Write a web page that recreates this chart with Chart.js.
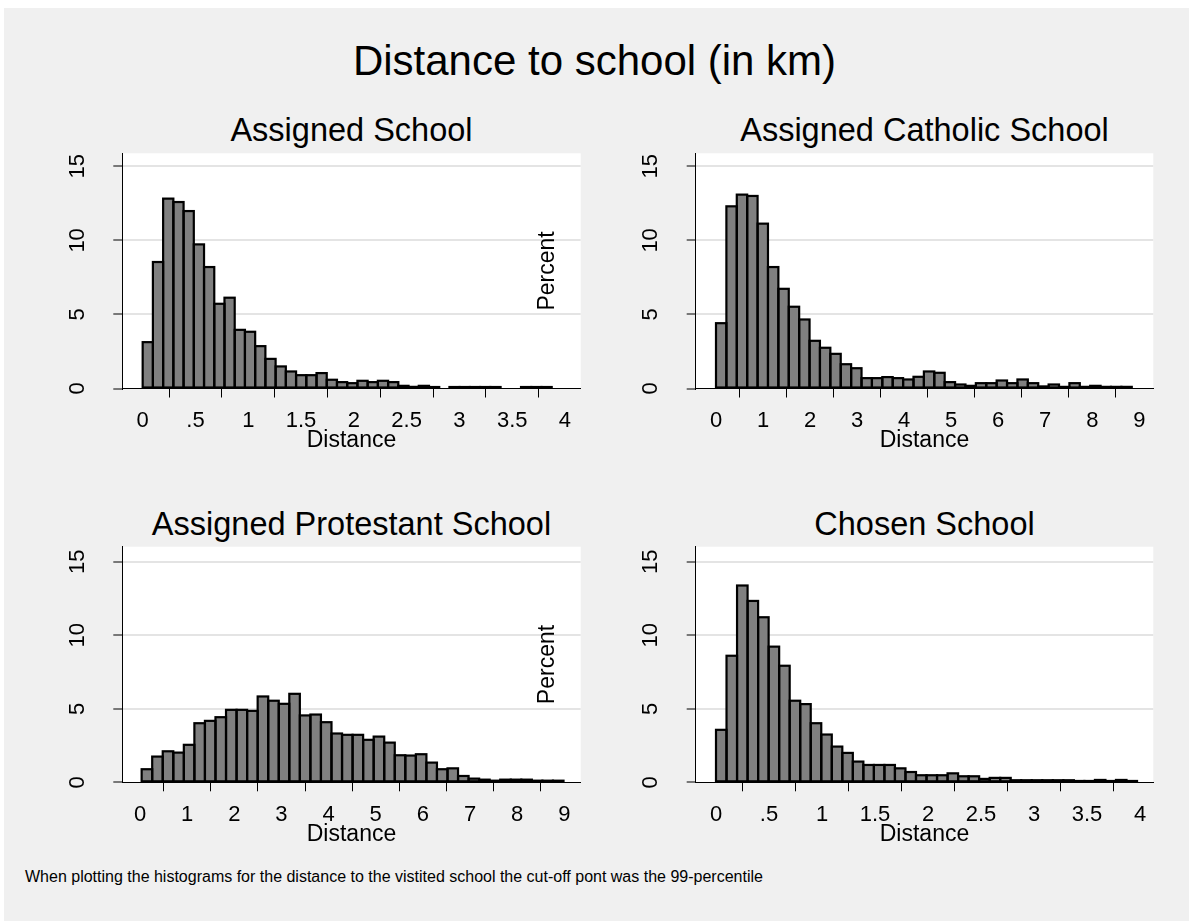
<!DOCTYPE html>
<html><head><meta charset="utf-8">
<script src="https://cdn.jsdelivr.net/npm/chart.js@4/dist/chart.umd.min.js"></script>
<style>
html,body{margin:0;padding:0;background:#fff;width:1189px;height:921px;overflow:hidden;font-family:"Liberation Sans",Arial,sans-serif;}
#bg{position:absolute;left:4px;top:8px;width:1185px;height:913px;background:#f0f0f0;}
.t{position:absolute;white-space:nowrap;color:#000;line-height:1;text-align:center;}
canvas{position:absolute;}
</style></head><body>
<div id="bg"></div>
<div class="t" style="left:0;width:1189px;top:39.5px;font-size:42px">Distance to school (in km)</div>
<div class="t" style="left:51.5px;width:600px;top:114.2px;font-size:32.5px">Assigned School</div>
<div class="t" style="left:624.5px;width:600px;top:114.2px;font-size:32.5px">Assigned Catholic School</div>
<div class="t" style="left:51.5px;width:600px;top:508px;font-size:32.5px">Assigned Protestant School</div>
<div class="t" style="left:624.5px;width:600px;top:508px;font-size:32.5px">Chosen School</div>
<div class="t" style="left:25px;top:869.2px;font-size:16px;text-align:left">When plotting the histograms for the distance to the vistited school the cut-off pont was the 99-percentile</div>
<script>
// ---- data ----
const assignedHeights = [3.13, 8.54, 12.82, 12.59, 11.98, 9.73, 8.20, 5.72, 6.13, 3.96, 3.83, 2.86, 2.00, 1.49, 1.15, 0.90, 0.90, 1.04, 0.59, 0.43, 0.36, 0.52, 0.43, 0.52, 0.43, 0.18, 0.11, 0.18, 0.10, 0, 0.10, 0.10, 0.10, 0.10, 0.10, 0, 0, 0.10, 0.10, 0.10];
const catholicHeights = [4.41, 12.30, 13.09, 13.0, 11.13, 8.20, 6.73, 5.52, 4.66, 3.22, 2.75, 2.34, 1.64, 1.37, 0.70, 0.70, 0.77, 0.70, 0.61, 0.79, 1.15, 1.06, 0.43, 0.27, 0.18, 0.36, 0.36, 0.54, 0.36, 0.61, 0.36, 0.14, 0.27, 0.11, 0.36, 0.11, 0.18, 0.11, 0.11, 0.11];
const protestantHeights = [0.89, 1.75, 2.11, 2.02, 2.55, 4.02, 4.18, 4.43, 4.93, 4.93, 4.86, 5.84, 5.55, 5.34, 6.02, 4.55, 4.61, 4.09, 3.32, 3.23, 3.23, 2.89, 3.11, 2.70, 1.84, 1.82, 1.91, 1.34, 0.89, 0.95, 0.43, 0.25, 0.18, 0.11, 0.18, 0.18, 0.18, 0.11, 0.11, 0.11];
const chosenHeights = [3.57, 8.61, 13.39, 12.34, 11.23, 9.23, 7.93, 5.55, 5.32, 4.02, 3.25, 2.43, 2.0, 1.41, 1.18, 1.18, 1.18, 0.95, 0.70, 0.48, 0.48, 0.48, 0.61, 0.41, 0.41, 0.23, 0.30, 0.30, 0.14, 0.14, 0.14, 0.14, 0.14, 0.14, 0.09, 0.09, 0.16, 0.09, 0.16, 0.09];

// bin start and bin width (km) for each histogram
const assignedBins = [0, 0.09686];
const catholicBins = [0, 0.2210];
const protestantBins = [0.035, 0.2237];
const chosenBins = [0, 0.0993];

const ticks4 = [0, 0.5, 1, 1.5, 2, 2.5, 3, 3.5, 4];
const ticks4Labels = ["0", ".5", "1", "1.5", "2", "2.5", "3", "3.5", "4"];
const ticks9 = [0, 1, 2, 3, 4, 5, 6, 7, 8, 9];
const ticks9Labels = ["0", "1", "2", "3", "4", "5", "6", "7", "8", "9"];
const yTicks = [0, 5, 10, 15];
const yTickLabels = ["0", "5", "10", "15"];

// ---- rendering ----
Chart.defaults.font.family = "'Liberation Sans', Arial, sans-serif";
Chart.defaults.color = '#000';

const HX = 66.3;
const plotBg = {
  id: 'plotBg',
  beforeDraw(chart) {
    const a = chart.chartArea, c = chart.ctx;
    c.save(); c.fillStyle = '#fff'; c.fillRect(a.left, a.top, a.right - a.left, a.bottom - a.top); c.restore();
  }
};
// Stata-style outline: stroke centred on each bar edge
const barOutline = {
  id: 'barOutline',
  afterDatasetsDraw(chart) {
    const c = chart.ctx;
    c.save(); c.strokeStyle = '#000'; c.lineWidth = 2.2; c.lineJoin = 'miter';
    chart.getDatasetMeta(0).data.forEach((el, i) => {
      const v = chart.data.datasets[0].data[i].y;
      if (!v) return;
      const {x, y, base, width} = el.getProps(['x', 'y', 'base', 'width'], true);
      c.strokeRect(x - width / 2, y, width, base - y);
    });
    c.restore();
  }
};

function panel(p) {
  const cv = document.createElement('canvas');
  cv.width = p.cw; cv.height = p.ch;
  cv.style.left = p.cx + 'px'; cv.style.top = p.cy + 'px';
  document.body.appendChild(cv);
  const [start, width] = p.bins;
  const data = p.heights.map((h, i) => ({x: start + (i + 0.5) * width, y: h}));
  new Chart(cv, {
    type: 'bar',
    data: {datasets: [{data, backgroundColor: '#808080', borderWidth: 0,
      barPercentage: 1, categoryPercentage: 1, inflateAmount: 0}]},
    plugins: [plotBg, barOutline],
    options: {
      responsive: false, animation: false, events: [],
      layout: {padding: {left: 0, top: p.T - p.cy, right: p.cx + p.cw - p.R, bottom: p.cy + p.ch - p.B - HX}},
      plugins: {legend: {display: false}, tooltip: {enabled: false}},
      scales: {
        x: {
          type: 'linear', min: p.xmin, max: p.xmax, offset: false,
          afterBuildTicks: s => { s.ticks = p.xt.map(v => ({value: v})); },
          afterFit: s => { s.height = HX; s.paddingLeft = 0; s.paddingRight = 0; },
          ticks: {autoSkip: false, maxRotation: 0, minRotation: 0, padding: 10, color: '#000',
            font: {size: 22}, callback: (v, i) => p.xl[i]},
          grid: {drawOnChartArea: false, drawTicks: true, tickLength: 9, tickColor: '#000', tickWidth: 1},
          border: {display: true, color: '#000', width: 1},
          title: {display: true, text: 'Distance', color: '#000', font: {size: 23}, padding: {top: 0, bottom: 0}}
        },
        y: {
          type: 'linear', min: 0, max: p.ymax,
          afterBuildTicks: s => { s.ticks = yTicks.map(v => ({value: v})); },
          afterFit: s => { s.width = p.L - p.cx; s.paddingTop = 0; s.paddingBottom = 0; },
          ticks: {minRotation: 90, maxRotation: 90, crossAlign: 'center', padding: 23.5, color: '#000',
            font: {size: 22}, callback: (v, i) => yTickLabels[i]},
          grid: {color: c => (c.tick && c.tick.value === 0) ? 'rgba(0,0,0,0)' : '#e4e4e4', lineWidth: 2,
            drawTicks: true, tickLength: 9, tickColor: '#000', tickWidth: 1},
          border: {display: true, color: '#000', width: 1},
          title: {display: p.showTitle, text: 'Percent', color: '#000', font: {size: 23}, padding: {top: 4.1, bottom: 0}}
        }
      }
    }
  });
}

panel({cx: 20, cy: 148, cw: 580, ch: 320, L: 122.3, T: 153.3, R: 580.7, B: 388.5,
  xmin: -0.193, xmax: 4.149, ymax: 15.88, xt: ticks4, xl: ticks4Labels, bins: assignedBins, heights: assignedHeights, showTitle: false});
panel({cx: 20, cy: 541, cw: 580, ch: 320, L: 122.3, T: 546.7, R: 580.7, B: 782.3,
  xmin: -0.3754, xmax: 9.3476, ymax: 16.03, xt: ticks9, xl: ticks9Labels, bins: protestantBins, heights: protestantHeights, showTitle: false});
panel({cx: 530, cy: 148, cw: 650, ch: 320, L: 695.7, T: 153.3, R: 1153.3, B: 388.5,
  xmin: -0.4316, xmax: 9.2977, ymax: 15.88, xt: ticks9, xl: ticks9Labels, bins: catholicBins, heights: catholicHeights, showTitle: true});
panel({cx: 530, cy: 541, cw: 650, ch: 320, L: 695.7, T: 546.7, R: 1153.3, B: 782.3,
  xmin: -0.1915, xmax: 4.1255, ymax: 16.03, xt: ticks4, xl: ticks4Labels, bins: chosenBins, heights: chosenHeights, showTitle: true});
</script>
</body></html>
